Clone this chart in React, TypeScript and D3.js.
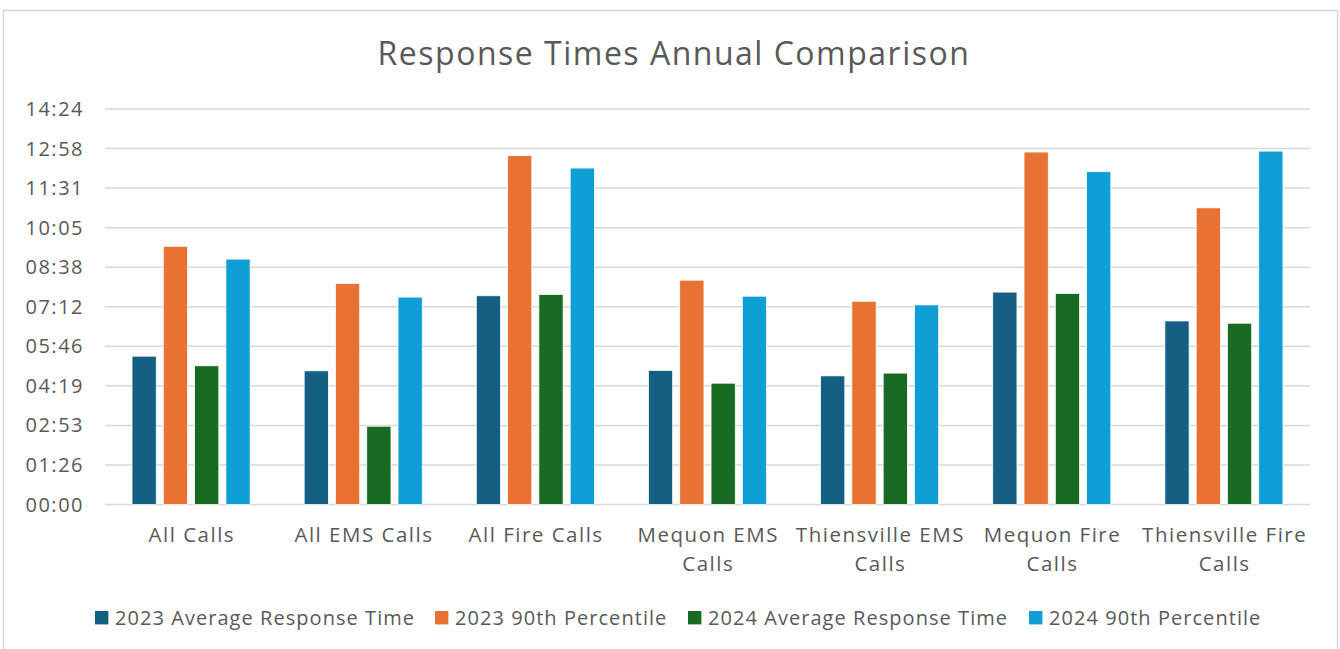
import React from "react";
import { scaleBand, scaleLinear, scaleOrdinal, range } from "d3";

const WIDTH = 1340;
const HEIGHT = 649;
const PLOT = { left: 105, right: 1310, top: 109, bottom: 504.5 };

// categories (two-line labels split on "|")
const categories = [
  "All Calls",
  "All EMS Calls",
  "All Fire Calls",
  "Mequon EMS|Calls",
  "Thiensville EMS|Calls",
  "Mequon Fire|Calls",
  "Thiensville Fire|Calls",
];

const seriesNames = [
  "2023 Average Response Time",
  "2023 90th Percentile",
  "2024 Average Response Time",
  "2024 90th Percentile",
];

// values in seconds
const avg2023 = [324, 292, 456, 293, 281, 464, 401];
const p90_2023 = [564, 483, 762, 490, 444, 770, 648];
const avg2024 = [303, 171, 459, 265, 287, 461, 396];
const p90_2024 = [536, 453, 735, 455, 436, 727, 772];

const seriesValues = [avg2023, p90_2023, avg2024, p90_2024];
const seriesColors = ["#156082", "#E97132", "#196B24", "#0F9ED5"];

// axis ticks every 86.4 s (0.001 day) up to 14:24
const tickValues = range(0, 11).map((i) => i * 86.4);

const fmt = (s: number) => {
  const m = Math.floor(s / 60);
  const sec = Math.round(s - m * 60);
  return `${String(m).padStart(2, "0")}:${String(sec).padStart(2, "0")}`;
};

const FONT = "'Open Sans', 'Noto Sans', sans-serif";
const TEXT = "#595959";
const GRID = "#d9d9d9";

// legend swatch left edges
const legendX = [95, 435, 688, 1029];

function App() {
  const x0 = scaleBand<string>()
    .domain(categories)
    .range([PLOT.left, PLOT.right])
    .paddingInner(0.314)
    .paddingOuter(0.157);
  const x1 = scaleBand<number>()
    .domain([0, 1, 2, 3])
    .range([0, x0.bandwidth()])
    .paddingInner(0.226);
  const y = scaleLinear().domain([0, 864]).range([PLOT.bottom, PLOT.top]);
  const color = scaleOrdinal<string, string>().domain(seriesNames).range(seriesColors);

  return (
    <svg
      width={WIDTH}
      height={HEIGHT}
      style={{ position: "absolute", left: 0, top: 0, background: "#fff" }}
      fontFamily={FONT}
    >
      <rect x={3.5} y={10.5} width={1334} height={660} fill="#fff" stroke={GRID} strokeWidth={1.5} />

      <text x={674} y={65} textAnchor="middle" fontSize={32} letterSpacing={1.5} fill={TEXT}>
        Response Times Annual Comparison
      </text>

      {/* gridlines + y labels */}
      {tickValues.map((t, i) => (
        <g key={i}>
          <line x1={PLOT.left} x2={PLOT.right} y1={y(t)} y2={y(t)} stroke={GRID} strokeWidth={1.5} />
          <text x={84} y={y(t)} dy="0.35em" textAnchor="end" fontSize={20} letterSpacing={1.5} fill={TEXT}>
            {fmt(t)}
          </text>
        </g>
      ))}

      {/* bars */}
      {categories.map((c, ci) => (
        <g key={c} transform={`translate(${x0(c)},0)`}>
          {seriesValues.map((vals, si) => (
            <rect
              key={si}
              x={x1(si)}
              y={y(vals[ci])}
              width={x1.bandwidth()}
              height={y(0) - y(vals[ci])}
              fill={color(seriesNames[si])}
              stroke="#fff"
              strokeWidth={0.75}
            />
          ))}
          {c.split("|").map((line, li) => (
            <text
              key={li}
              x={x0.bandwidth() / 2 + 0.75}
              y={542 + li * 29}
              textAnchor="middle"
              fontSize={20.5}
              letterSpacing={1.5}
              fill={TEXT}
            >
              {line}
            </text>
          ))}
        </g>
      ))}

      {/* legend */}
      {seriesNames.map((s, i) => (
        <g key={s} transform={`translate(${legendX[i]},611)`}>
          <rect x={0} y={0} width={13.4} height={13.4} fill={color(s)} />
          <text x={20} y={14} fontSize={20} letterSpacing={1.05} fill={TEXT}>
            {s}
          </text>
        </g>
      ))}
    </svg>
  );
}

export default App;
